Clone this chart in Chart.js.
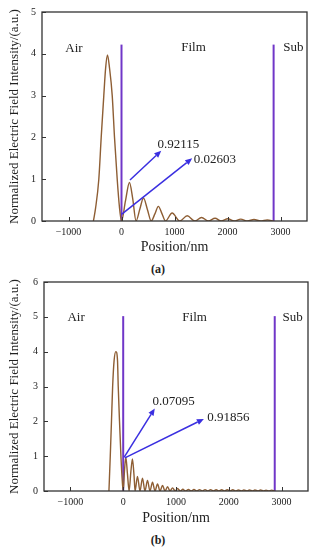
<!DOCTYPE html>
<html><head><meta charset="utf-8">
<script src="https://cdn.jsdelivr.net/npm/chart.js@4/dist/chart.umd.min.js"></script>
<style>
html,body{margin:0;padding:0;background:#fff;width:316px;height:550px;overflow:hidden}
.wrap{position:absolute;left:0;width:316px;height:260px}
.cap{position:absolute;left:0;width:316px;text-align:center;font:bold 12px "Liberation Serif",serif;color:#222;line-height:14px}
</style></head><body>
<div class="wrap" style="top:0"><canvas id="ca"></canvas></div>
<div class="cap" style="top:262px">(a)</div>
<div class="wrap" style="top:270px"><canvas id="cb"></canvas></div>
<div class="cap" style="top:533px">(b)</div>
<script>
// ---------- data ----------
const X_TICKS = [-1000, 0, 1000, 2000, 3000];
const Y_TICKS_A = [0, 1, 2, 3, 4, 5];
const Y_TICKS_B = [0, 1, 2, 3, 4, 5, 6];
const X_TITLE = 'Position/nm';
const Y_TITLE = 'Normalized Electric Field Intensity/(a.u.)';

const POS_A = [-530,-490,-428,-383,-334,-300,-265,-225,-175,-132,-81,-40,0,
  75,150,210,275,345,415,490,560,630,695,765,830,955,1100,1240,1385,1510,1640,1765,1880,2005,2125,2250,2375,2500,2625,2750,2870];
const INT_A = [0,0.3,1,2,3,3.65,3.97,3.65,3,2,1,0.35,0,
  0.48,0.92,0.55,0,0.28,0.55,0.27,0,0.17,0.35,0.17,0,0.19,0,0.125,0,0.085,0,0.065,0,0.055,0,0.045,0,0.035,0,0.025,0];

const POS_B = [-270,-245,-222,-200,-172,-138,-108,-94,-70,-43,-18,0,
  25,50,80,112,145,175,205,225,270,318,365,412,460,507,555,602,650,697,745,792,840,887,935,982,1030,1080,
  1130,1180,1235,1290,1340,1395,1445,1500,1550,1605,1655,1710,1760,1815,1865,1920,1970,2025,2075,2130,
  2180,2235,2285,2340,2390,2445,2495,2550,2600,2655,2705,2760,2810,2870];
const INT_B = [0,1,2,3,3.75,4.0,3.75,3,2,1,0.3,0,
  0.6,0.97,0.5,0,0.55,0.92,0.45,0,0.42,0,0.37,0,0.3,0,0.25,0,0.2,0,0.16,0,0.12,0,0.09,0,0.07,0,
  0.05,0,0.045,0,0.045,0,0.04,0,0.04,0,0.04,0,0.035,0,0.035,0,0.035,0,0.035,0,
  0.03,0,0.03,0,0.03,0,0.03,0,0.03,0,0.025,0,0.025,0];

const INTERFACES = [0, 2870];
const LINE_TOP_A = 4.22;
const LINE_TOP_B = 5.02;

const REGION_NAMES = ['Air', 'Film', 'Sub'];
const REGION_X_A = [-896, 1358, 3245];
const REGION_Y_A = [4.12, 4.14, 4.14];
const REGION_X_B = [-892, 1353, 3208];
const REGION_Y_B = [4.97, 4.98, 4.98];

const ARROW_FROM_A = [[160, 0.98], [0, 0.16]];
const ARROW_TO_A = [[750, 1.68], [1334, 1.5]];
const VALUE_TEXT_A = ['0.92115', '0.02603'];
const VALUE_AT_A = [[680, 1.84], [1364, 1.46]];

const ARROW_FROM_B = [[19, 0.97], [32, 0.95]];
const ARROW_TO_B = [[598, 2.37], [1528, 2.07]];
const VALUE_TEXT_B = ['0.07095', '0.91856'];
const VALUE_AT_B = [[553, 2.58], [1590, 2.1]];

// ---------- style ----------
const SERIF = '"Liberation Serif","Times New Roman",serif';
const BROWN = '#8e5e34';
const PURPLE = '#7036c8';
const ARROW = '#3a2fe0';
const INK = '#222';
const FRAME = '#333';

const notesPlugin = {
  id: 'notes',
  afterDatasetsDraw(chart, args, o) {
    const {ctx, chartArea: a, scales: {x, y}} = chart;
    ctx.save();
    ctx.strokeStyle = FRAME; ctx.lineWidth = 1.3;
    ctx.strokeRect(a.left, a.top, a.right - a.left, a.bottom - a.top);
    ctx.lineWidth = 1;
    ctx.beginPath();
    x.ticks.forEach(t => { const px = Math.round(x.getPixelForValue(t.value)) + 0.5; ctx.moveTo(px, a.bottom); ctx.lineTo(px, a.bottom - 4); });
    y.ticks.forEach(t => { const py = Math.round(y.getPixelForValue(t.value)) + 0.5; ctx.moveTo(a.left, py); ctx.lineTo(a.left + 4, py); });
    ctx.stroke();
    ctx.strokeStyle = ARROW; ctx.fillStyle = ARROW; ctx.lineWidth = 1.5;
    o.from.forEach((f, i) => {
      const x1 = x.getPixelForValue(f[0]), y1 = y.getPixelForValue(f[1]);
      const x2 = x.getPixelForValue(o.to[i][0]), y2 = y.getPixelForValue(o.to[i][1]);
      const ang = Math.atan2(y2 - y1, x2 - x1), L = 7, W = 3;
      const bx = x2 - L * Math.cos(ang), by = y2 - L * Math.sin(ang);
      ctx.beginPath(); ctx.moveTo(x1, y1); ctx.lineTo(bx, by); ctx.stroke();
      ctx.beginPath(); ctx.moveTo(x2, y2);
      ctx.lineTo(bx + W * Math.sin(ang), by - W * Math.cos(ang));
      ctx.lineTo(bx - W * Math.sin(ang), by + W * Math.cos(ang));
      ctx.closePath(); ctx.fill();
    });
    ctx.fillStyle = INK; ctx.font = '13px ' + SERIF; ctx.textBaseline = 'middle';
    ctx.textAlign = 'center';
    o.names.forEach((n, i) => ctx.fillText(n, x.getPixelForValue(o.nx[i]), y.getPixelForValue(o.ny[i])));
    ctx.textAlign = 'left';
    o.vals.forEach((t, i) => ctx.fillText(t, x.getPixelForValue(o.vat[i][0]), y.getPixelForValue(o.vat[i][1])));
    ctx.restore();
  }
};

function fmt(v) { return v < 0 ? '\u2212' + Math.abs(v) : String(v); }

function build(id, d) {
  const lines = INTERFACES.map(p => ({
    data: [{x: p, y: 0}, {x: p, y: d.lineTop}], borderColor: PURPLE, borderWidth: 2, pointRadius: 0
  }));
  new Chart(document.getElementById(id), {
    type: 'line',
    data: {datasets: [
      {data: d.px.map((v, i) => ({x: v, y: d.py[i]})), borderColor: BROWN, borderWidth: 1.4,
       pointRadius: 0, cubicInterpolationMode: 'monotone', fill: false},
      ...lines
    ]},
    options: {
      responsive: true, maintainAspectRatio: false, animation: false,
      layout: {padding: {top: 9, right: d.padRight, left: 0, bottom: 0}},
      plugins: {legend: {display: false}, tooltip: {enabled: false},
        notes: {from: d.from, to: d.to, names: REGION_NAMES, nx: d.nx, ny: d.ny, vals: d.vals, vat: d.vat}},
      scales: {
        x: {type: 'linear', min: -1500, max: 3500,
          afterBuildTicks: s => { s.ticks = X_TICKS.map(v => ({value: v})); },
          afterFit: s => { s.height = 39; },
          grid: {display: false, drawTicks: false}, border: {display: false},
          ticks: {font: {family: SERIF, size: 10}, color: INK, padding: 5, maxRotation: 0, callback: fmt},
          title: {display: true, text: X_TITLE, font: {family: SERIF, size: 14}, color: INK, padding: {top: 0, bottom: d.xtPad}}},
        y: {type: 'linear', min: 0, max: d.yMax,
          afterBuildTicks: s => { s.ticks = d.yt.map(v => ({value: v})); },
          afterFit: s => { s.width = d.yWidth; },
          grid: {display: false, drawTicks: false}, border: {display: false},
          ticks: {font: {family: SERIF, size: 10}, color: INK, padding: 6, callback: fmt},
          title: {display: true, text: Y_TITLE, font: {family: SERIF, size: 13}, color: INK, padding: {top: 7, bottom: 0}}}
      }
    },
    plugins: [notesPlugin]
  });
}

build('ca', {px: POS_A, py: INT_A, lineTop: LINE_TOP_A, yMax: 5, yt: Y_TICKS_A, yWidth: 42, padRight: 9, xtPad: 4,
  from: ARROW_FROM_A, to: ARROW_TO_A, nx: REGION_X_A, ny: REGION_Y_A, vals: VALUE_TEXT_A, vat: VALUE_AT_A});
build('cb', {px: POS_B, py: INT_B, lineTop: LINE_TOP_B, yMax: 6, yt: Y_TICKS_B, yWidth: 44, padRight: 8, xtPad: 3,
  from: ARROW_FROM_B, to: ARROW_TO_B, nx: REGION_X_B, ny: REGION_Y_B, vals: VALUE_TEXT_B, vat: VALUE_AT_B});
</script>
</body></html>
